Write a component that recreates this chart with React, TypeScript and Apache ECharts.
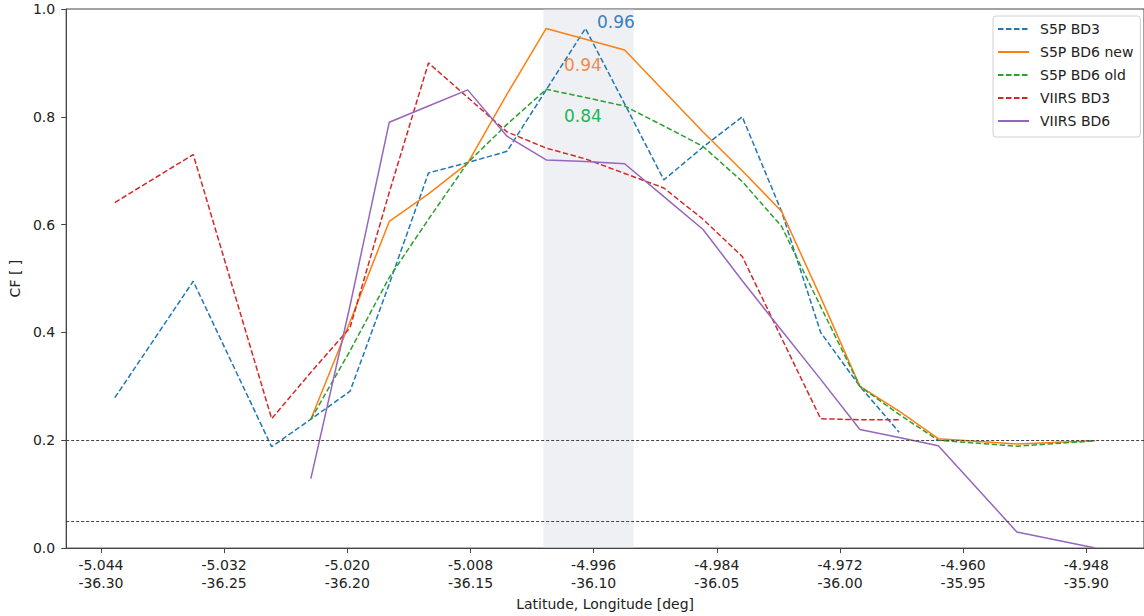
import React, { useEffect, useRef } from "react";
import * as echarts from "echarts";

// Latitude of each sample (x positions)
const latitudes = [
  -5.04265, -5.03501, -5.02737, -5.02355, -5.01973, -5.01591, -5.01209, -5.00827,
  -5.00444, -5.00062, -4.9968, -4.99298, -4.98916, -4.98534, -4.98152, -4.9777,
  -4.97388, -4.97006, -4.96624, -4.96242, -4.95477, -4.94713,
];

const s5pBd3 = [0.279, 0.495, 0.188, 0.239, 0.291, 0.49, 0.696, 0.715, 0.736, 0.85, 0.964, 0.824, 0.683, 0.744, 0.8, 0.625, 0.4, 0.3, 0.215, null, null, null];
const s5pBd6New = [null, null, null, 0.239, 0.42, 0.606, 0.657, 0.714, 0.842, 0.964, 0.944, 0.924, 0.848, 0.772, 0.7, 0.625, 0.465, 0.3, 0.254, 0.203, 0.193, 0.199];
const s5pBd6Old = [null, null, null, 0.239, 0.366, 0.502, 0.61, 0.715, 0.786, 0.851, 0.836, 0.82, 0.783, 0.745, 0.68, 0.597, 0.448, 0.3, 0.248, 0.2, 0.189, 0.199];
const viirsBd3 = [0.641, 0.73, 0.24, 0.326, 0.409, 0.66, 0.9, 0.836, 0.772, 0.742, 0.722, 0.695, 0.668, 0.61, 0.541, 0.39, 0.24, 0.238, 0.238, null, null, null];
const viirsBd6 = [null, null, null, 0.129, 0.45, 0.79, 0.82, 0.85, 0.764, 0.72, 0.717, 0.713, 0.652, 0.591, 0.496, 0.404, 0.313, 0.22, 0.205, 0.19, 0.03, 0.0];

// Tick labels
const latTicks = [-5.044, -5.032, -5.02, -5.008, -4.996, -4.984, -4.972, -4.96, -4.948];
const latTickLabels = ["-5.044", "-5.032", "-5.020", "-5.008", "-4.996", "-4.984", "-4.972", "-4.960", "-4.948"];
const lonTickLabels = ["-36.30", "-36.25", "-36.20", "-36.15", "-36.10", "-36.05", "-36.00", "-35.95", "-35.90"];

const thresholds = [0.2, 0.05];
const bandRange = [-5.0009, -4.9921];
const peakLabels = ["0.96", "0.94", "0.84"];

const FONT = "DejaVu Sans";

function pairs(vals: (number | null)[]) {
  return latitudes.map((x, i) => [x, vals[i]]);
}

export default function App() {
  const ref = useRef<HTMLDivElement>(null);
  useEffect(() => {
    document.body.style.margin = "0";
    const chart = echarts.init(ref.current!, null, { renderer: "svg" });
    const dash = [5.5, 2.5];
    const mk = (name: string, vals: (number | null)[], color: string, dashed: boolean) => ({
      name,
      type: "line",
      data: pairs(vals),
      symbol: "none",
      showSymbol: false,
      connectNulls: false,
      z: 2,
      lineStyle: { color, width: 1.5, type: dashed ? dash : "solid" },
      itemStyle: { color },
    });
    chart.setOption({
      animation: false,
      textStyle: { fontFamily: FONT },
      grid: {
        left: 64,
        top: 9,
        width: 1085,
        height: 540,
        show: true,
        borderColor: "#444",
        borderWidth: 1,
        backgroundColor: "transparent",
      },
      xAxis: {
        type: "value",
        min: -5.04739,
        max: -4.94238,
        splitLine: { show: false },
        axisLine: { lineStyle: { color: "#444", width: 1 } },
        axisTick: { show: true, length: 5, customValues: latTicks, lineStyle: { color: "#444" } },
        axisLabel: {
          customValues: latTicks,
          margin: 8,
          fontSize: 14,
          lineHeight: 18,
          color: "#222",
          fontFamily: FONT,
          formatter: (v: number) => {
            let idx = 0;
            let best = Infinity;
            latTicks.forEach((t, i) => {
              const d = Math.abs(t - v);
              if (d < best) { best = d; idx = i; }
            });
            return latTickLabels[idx] + "\n" + lonTickLabels[idx];
          },
        },
        name: "Latitude, Longitude [deg]",
        nameLocation: "middle",
        nameGap: 47,
        nameTextStyle: { fontSize: 14, color: "#222", fontFamily: FONT },
      },
      yAxis: {
        type: "value",
        min: 0,
        max: 1,
        interval: 0.2,
        splitLine: { show: false },
        axisLine: { show: true, lineStyle: { color: "#444", width: 1 } },
        axisTick: { show: true, length: 5, lineStyle: { color: "#444" } },
        axisLabel: {
          margin: 11,
          fontSize: 14,
          color: "#222",
          fontFamily: FONT,
          formatter: (v: number) => v.toFixed(1),
        },
        name: "CF [ ]",
        nameLocation: "middle",
        nameGap: 36,
        nameTextStyle: { fontSize: 14, color: "#222", fontFamily: FONT },
      },
      legend: {
        data: ["S5P BD3", "S5P BD6 new", "S5P BD6 old", "VIIRS BD3", "VIIRS BD6"],
        orient: "vertical",
        left: 993,
        top: 16,
        padding: [6, 7, 9, 4],
        itemWidth: 31,
        itemHeight: 14,
        itemGap: 9,
        itemStyle: { opacity: 0 },
        backgroundColor: "#fff",
        borderColor: "#d0d0d0",
        borderWidth: 1,
        borderRadius: 3,
        textStyle: { fontSize: 14, color: "#222", fontFamily: FONT, lineHeight: 14, padding: [0, 0, 0, 6] },
      },
      series: [
        mk("S5P BD3", s5pBd3, "#1f77b4", true),
        mk("S5P BD6 new", s5pBd6New, "#ff7f0e", false),
        mk("S5P BD6 old", s5pBd6Old, "#2ca02c", true),
        mk("VIIRS BD3", viirsBd3, "#d62728", true),
        mk("VIIRS BD6", viirsBd6, "#9467bd", false),
        {
          name: "band",
          type: "line",
          data: [],
          z: 5,
          silent: true,
          markArea: {
            silent: true,
            itemStyle: { color: "rgba(215,218,228,0.4)" },
            data: [[{ xAxis: bandRange[0] }, { xAxis: bandRange[1] }]],
          },
          markLine: {
            silent: true,
            symbol: "none",
            label: { show: false },
            lineStyle: { color: "#444", width: 1, type: [3, 2] },
            data: thresholds.map((t) => ({ yAxis: t })),
          },
        },
      ],
      graphic: [
        { type: "text", z: 100, left: 597, top: 13, style: { text: peakLabels[0], fill: "#3a7fc0", font: `17px '${FONT}'` } },
        { type: "text", z: 100, left: 564, top: 56, style: { text: peakLabels[1], fill: "#f28a48", font: `17px '${FONT}'` } },
        { type: "text", z: 100, left: 564, top: 107, style: { text: peakLabels[2], fill: "#1eb456", font: `17px '${FONT}'` } },
      ],
    });
    return () => chart.dispose();
  }, []);
  return <div ref={ref} style={{ width: 1144, height: 616 }} />;
}
